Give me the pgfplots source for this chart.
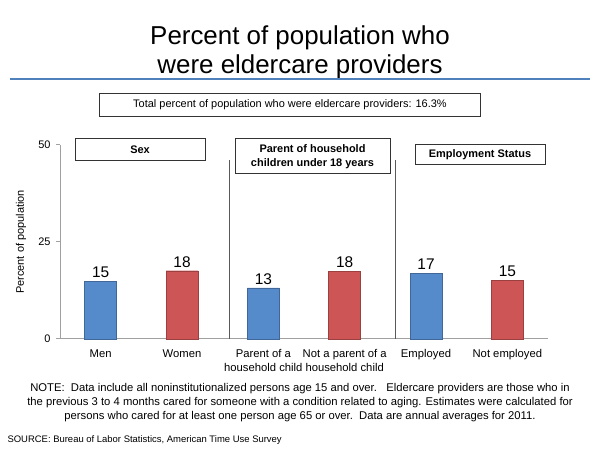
\documentclass[border=0pt]{standalone}
\usepackage{pgfplots}
\pgfplotsset{compat=1.18}
\usepackage{fontspec}
\setmainfont{Liberation Sans}
\definecolor{barblue}{RGB}{85,138,203}
\definecolor{barred}{RGB}{205,85,85}
\definecolor{axisgray}{RGB}{160,160,160}
\definecolor{rulecol}{RGB}{79,129,189}
\begin{document}
\begin{tikzpicture}[x=1bp,y=1bp]
\path[use as bounding box] (0,0) rectangle (600,450);
\node[font=\fontsize{26}{29}\selectfont, align=center] at (300,398) {Percent of population who\\were eldercare providers};
\draw[rulecol, line width=2.5bp] (10,371) -- (590,371);
\node[draw=black!80, line width=1bp, minimum width=380bp, minimum height=23bp, inner sep=0pt, font=\fontsize{11}{13}\selectfont] at (290,345) {Total percent of population who were eldercare providers: 16.3\%};
\begin{axis}[
  at={(60bp,111bp)}, anchor=south west,
  scale only axis, width=488bp, height=194bp,
  xmin=-0.5, xmax=5.5, ymin=0, ymax=50,
  ytick={0,25,50},
  xtick={0,1,2,3,4,5},
  xticklabels={Men,Women,{Parent of a\\household child},{Not a parent of a\\household child},Employed,Not employed},
  xticklabel style={align=center, font=\fontsize{11.3}{14}\selectfont, yshift=-3bp},
  yticklabel style={font=\fontsize{11}{13}\selectfont, xshift=-2bp},
  /pgf/number format/assume math mode=true,
  axis x line*=bottom, axis y line*=left,
  axis line style={axisgray, line width=1bp},
  x tick style={draw=none},
  y tick style={axisgray, line width=1bp},
  tick align=outside, major tick length=4bp,
  ylabel={Percent of population},
  ylabel style={font=\fontsize{11}{13}\selectfont, at={(axis description cs:-0.08,0.5)}, anchor=center},
  nodes near coords style={font=\fontsize{15.5}{17}\selectfont, black},
  clip=false,
]
\addplot[ybar, bar width=32bp, bar shift=0pt, fill=barblue, draw=barblue!75!black, nodes near coords, point meta=explicit symbolic]
  coordinates {(0,14.8)[15] (2,13.2)[13] (4,16.9)[17]};
\addplot[ybar, bar width=32bp, bar shift=0pt, fill=barred, draw=barred!75!black, nodes near coords, point meta=explicit symbolic]
  coordinates {(1,17.6)[18] (3,17.5)[18] (5,15.2)[15]};
\addplot[black!65, line width=1bp, no marks] coordinates {(1.59,0) (1.59,46.1)};
\addplot[black!65, line width=1bp, no marks] coordinates {(3.62,0) (3.62,46.1)};
\end{axis}
\node[draw=black!80, line width=1bp, minimum width=130bp, minimum height=22bp, inner sep=0pt, font=\bfseries\fontsize{11}{13}\selectfont] at (140,300) {Sex};
\node[draw=black!80, line width=1bp, minimum width=155bp, minimum height=35bp, inner sep=0pt, align=center, font=\bfseries\fontsize{11}{14}\selectfont] at (312.5,293.5) {Parent of household\\children under 18 years};
\node[draw=black!80, line width=1bp, minimum width=130bp, minimum height=20bp, inner sep=0pt, font=\bfseries\fontsize{11}{13}\selectfont] at (480,295) {Employment Status};
\node[align=center, font=\fontsize{11.3}{14}\selectfont] at (300,47) {NOTE:\ \ Data include all noninstitutionalized persons age 15 and over.\ \ \ Eldercare providers are those who in\\the previous 3 to 4 months cared for someone with a condition related to aging. Estimates were calculated for\\persons who cared for at least one person age 65 or over.\ \ Data are annual averages for 2011.};
\node[anchor=west, font=\fontsize{9.5}{11}\selectfont] at (4,10) {SOURCE: Bureau of Labor Statistics, American Time Use Survey};
\end{tikzpicture}
\end{document}
